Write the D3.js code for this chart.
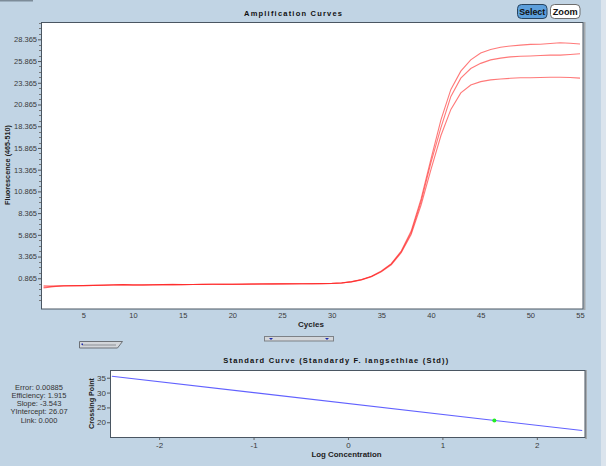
<!DOCTYPE html>
<html><head><meta charset="utf-8">
<script src="https://cdn.jsdelivr.net/npm/d3@7"></script>
<style>
html,body{margin:0;padding:0;background:#c1d4e4;}
svg{display:block;font-family:"Liberation Sans",Arial,sans-serif;}
</style></head>
<body>
<svg id="chart" width="606" height="466"></svg>
<script>
// ---------- DATA ----------
const cycles = d3.range(1, 56);
const curveA = [-0.25,-0.1,0.0,0.0,0.02,0.05,0.07,0.12,0.15,0.1,0.1,0.12,0.14,0.16,0.14,0.15,0.16,0.17,0.16,0.17,
  0.18,0.2,0.22,0.21,0.22,0.23,0.24,0.24,0.25,0.27,0.33,0.48,0.72,1.1,1.7,2.55,4.0,6.3,10.0,14.6,
  19.1,22.6,24.7,26.0,26.8,27.2,27.45,27.6,27.7,27.78,27.8,27.88,27.98,27.92,27.82];
const curveB = [0.0,-0.02,0.0,0.02,0.03,0.05,0.08,0.1,0.12,0.1,0.11,0.12,0.13,0.14,0.15,0.15,0.16,0.18,0.17,0.18,
  0.19,0.2,0.21,0.22,0.23,0.23,0.24,0.25,0.26,0.28,0.34,0.47,0.7,1.08,1.66,2.5,3.9,6.1,9.7,14.2,
  18.2,21.8,23.9,25.0,25.6,26.0,26.2,26.35,26.42,26.45,26.5,26.55,26.55,26.62,26.7];
const curveC = [-0.15,-0.05,-0.02,0.0,0.02,0.04,0.06,0.1,0.13,0.11,0.1,0.11,0.13,0.15,0.14,0.15,0.15,0.17,0.17,0.16,
  0.18,0.19,0.21,0.22,0.22,0.22,0.23,0.24,0.25,0.26,0.32,0.45,0.68,1.05,1.6,2.42,3.8,5.9,9.3,13.4,
  17.3,20.3,22.2,23.1,23.5,23.7,23.8,23.88,23.95,23.95,23.98,24.0,24.0,23.98,23.9];
const series = [curveA, curveB, curveC];

const yTicksTop = [0.865,3.365,5.865,8.365,10.865,13.365,15.865,18.365,20.865,23.365,25.865,28.365];
const xTicksTop = [5,10,15,20,25,30,35,40,45,50,55];

// standard curve
const stdLineX = [-2.5, 2.48];
const stdLineY = [35.5, 17.2];
const stdPointX = [1.55];
const stdPointY = [20.6];
const xTicksStd = [-2,-1,0,1,2];
const yTicksStd = [20,25,30,35];
const statsLines = ["Error: 0.00885","Efficiency: 1.915","Slope: -3.543","YIntercept: 26.07","Link: 0.000"];

// ---------- DRAW ----------
const svg = d3.select("#chart");
const tickFont = "7.5px";
const tickColor = "#3a3a3a";

// background extras
svg.append("rect").attr("x",0).attr("y",0).attr("width",606).attr("height",466).attr("fill","#c1d4e4");
svg.append("rect").attr("x",601).attr("y",0).attr("width",5).attr("height",466).attr("fill","#dbe4ed");
svg.append("rect").attr("x",0).attr("y",0).attr("width",33).attr("height",1.5).attr("fill","#7d8c99");

// ===== Top chart =====
const xT = d3.scaleLinear().domain([0.74, 55.3]).range([41, 583]);
const yT = d3.scaleLinear().domain([-2.67, 30.36]).range([309, 22]);

svg.append("rect").attr("x",41).attr("y",22).attr("width",542).attr("height",287).attr("fill","#fff");

// curves
const line = d3.line().x((d,i)=>xT(cycles[i])).y(d=>yT(d));
const gC = svg.append("g");
series.forEach(s=>{
  gC.append("path").datum(s).attr("d",line).attr("fill","none")
    .attr("stroke","#ff2020").attr("stroke-width",1.1).attr("stroke-opacity",0.6);
});

// frame
svg.append("line").attr("x1",584.5).attr("x2",584.5).attr("y1",22).attr("y2",310).attr("stroke","#a4a9ad").attr("stroke-width",2);
svg.append("rect").attr("x",41.5).attr("y",22.5).attr("width",541.5).attr("height",286.5)
  .attr("fill","none").attr("stroke","#4a5662").attr("stroke-width",1);

// y axis (left)
const yAx = svg.append("g").attr("transform","translate(41,0)")
  .call(d3.axisLeft(yT).tickValues(yTicksTop).tickFormat(d3.format(".3f")).tickSize(3).tickPadding(1));
yAx.select(".domain").remove();
yAx.selectAll("text").attr("font-size",tickFont).attr("fill",tickColor).attr("font-family","Liberation Sans, Arial");
yAx.selectAll("line").attr("stroke","#555");
// minor ticks
const minorTop = d3.range(yTicksTop[0]-2.5, yT.domain()[1], 0.625).filter(v=>v>yT.domain()[0] && !yTicksTop.some(t=>Math.abs(t-v)<1e-6));
svg.append("g").selectAll("line").data(minorTop).join("line")
  .attr("x1",39).attr("x2",41).attr("y1",d=>Math.round(yT(d))+0.5).attr("y2",d=>Math.round(yT(d))+0.5).attr("stroke","#777");

// x axis
const xAx = svg.append("g").attr("transform","translate(0,309)")
  .call(d3.axisBottom(xT).tickValues(xTicksTop).tickFormat(d3.format("d")).tickSize(0).tickPadding(4));
xAx.select(".domain").remove();
xAx.selectAll("text").attr("font-size",tickFont).attr("fill",tickColor).attr("font-family","Liberation Sans, Arial");

// titles/labels
svg.append("text").attr("x",293).attr("y",16).attr("text-anchor","middle")
  .attr("font-size","7.5px").attr("font-weight","bold").attr("fill","#111")
  .attr("textLength",98).attr("lengthAdjust","spacing").text("Amplification Curves");
svg.append("text").attr("x",311).attr("y",327).attr("text-anchor","middle")
  .attr("font-size","8px").attr("font-weight","bold").attr("fill","#222").text("Cycles");
svg.append("text").attr("transform","translate(10,165) rotate(-90)").attr("text-anchor","middle")
  .attr("font-size","6.5px").attr("font-weight","bold").attr("fill","#222")
  .attr("textLength",80).attr("lengthAdjust","spacingAndGlyphs").text("Fluorescence (465-510)");

// buttons
const btn = svg.append("g");
btn.append("rect").attr("x",517.5).attr("y",4.5).attr("width",29.5).attr("height",14).attr("rx",4)
  .attr("fill","#5c9fdc").attr("stroke","#27435e");
btn.append("text").attr("x",532.2).attr("y",15).attr("text-anchor","middle").attr("font-size","9px")
  .attr("font-weight","bold").attr("fill","#111").attr("textLength",26).attr("lengthAdjust","spacingAndGlyphs").text("Select");
btn.append("rect").attr("x",550.5).attr("y",4.5).attr("width",29.5).attr("height",14).attr("rx",4)
  .attr("fill","#fff").attr("stroke","#6c6c6c");
btn.append("text").attr("x",565.2).attr("y",15).attr("text-anchor","middle").attr("font-size","9px")
  .attr("font-weight","bold").attr("fill","#111").attr("textLength",25).attr("lengthAdjust","spacingAndGlyphs").text("Zoom");

// slider widgets
svg.append("polygon").attr("points","79.5,341.5 122.5,341.5 117.5,348 79.5,348")
  .attr("fill","#d3d6da").attr("stroke","#6d7176");
svg.append("line").attr("x1",82).attr("x2",116).attr("y1",345).attr("y2",345).attr("stroke","#8c9096");
svg.append("rect").attr("x",81.5).attr("y",343.5).attr("width",1.5).attr("height",1.5).attr("fill","#1d2bb0");
svg.append("rect").attr("x",264.5).attr("y",336.5).attr("width",69).attr("height",4.5)
  .attr("fill","#d3d6da").attr("stroke","#7d8186");
svg.append("polygon").attr("points","269,338 273,338 271,340").attr("fill","#1d2bb0");
svg.append("polygon").attr("points","325,338 329,338 327,340").attr("fill","#1d2bb0");

// ===== Bottom chart =====
const xS = d3.scaleLinear().domain([-2.52, 2.51]).range([110, 585]);
const yS = d3.scaleLinear().domain([14.8, 37.6]).range([437.7, 370]);

svg.append("rect").attr("x",110).attr("y",370).attr("width",475).attr("height",67.7).attr("fill","#fff");
svg.append("line").attr("x1",586).attr("x2",586).attr("y1",370).attr("y2",439).attr("stroke","#a4a9ad").attr("stroke-width",2);
svg.append("rect").attr("x",110.5).attr("y",370.5).attr("width",474.5).attr("height",67)
  .attr("fill","none").attr("stroke","#4a5662");

svg.append("path").datum(stdLineX.map((x,i)=>[x,stdLineY[i]]))
  .attr("d",d3.line().x(d=>xS(d[0])).y(d=>yS(d[1])))
  .attr("fill","none").attr("stroke","#3a3aff").attr("stroke-width",1.1).attr("stroke-opacity",0.8);
svg.append("g").selectAll("circle").data(stdPointX).join("circle")
  .attr("cx",d=>xS(d)).attr("cy",(d,i)=>yS(stdPointY[i])).attr("r",2).attr("fill","#22ee22");

const ySAx = svg.append("g").attr("transform","translate(110,0)")
  .call(d3.axisLeft(yS).tickValues(yTicksStd).tickSize(3).tickPadding(1));
ySAx.select(".domain").remove();
ySAx.selectAll("text").attr("font-size","8px").attr("fill",tickColor).attr("font-family","Liberation Sans, Arial");
ySAx.selectAll("line").attr("stroke","#555");

const xSAx = svg.append("g").attr("transform","translate(0,438)")
  .call(d3.axisBottom(xS).tickValues(xTicksStd).tickFormat(d=>d<0?"-"+Math.abs(d):d).tickSize(2).tickPadding(2));
xSAx.select(".domain").remove();
xSAx.selectAll("text").attr("font-size","8px").attr("fill",tickColor).attr("font-family","Liberation Sans, Arial");
xSAx.selectAll("line").attr("stroke","#666");

svg.append("text").attr("x",335.8).attr("y",362.5).attr("text-anchor","middle")
  .attr("font-size","7.5px").attr("font-weight","bold").attr("fill","#111")
  .attr("textLength",225).attr("lengthAdjust","spacing").text("Standard Curve (Standardy F. langsethiae (Std))");
svg.append("text").attr("x",346.5).attr("y",456.5).attr("text-anchor","middle")
  .attr("font-size","8px").attr("font-weight","bold").attr("fill","#222")
  .attr("textLength",70).attr("lengthAdjust","spacingAndGlyphs").text("Log Concentration");
svg.append("text").attr("transform","translate(94,403.5) rotate(-90)").attr("text-anchor","middle")
  .attr("font-size","7.5px").attr("font-weight","bold").attr("fill","#222")
  .attr("textLength",51).attr("lengthAdjust","spacingAndGlyphs").text("Crossing Point");

svg.append("g").selectAll("text").data(statsLines).join("text")
  .attr("x",39).attr("y",(d,i)=>389.5+i*8.3).attr("text-anchor","middle")
  .attr("font-size","7.5px").attr("fill","#333").text(d=>d);
</script>
</body></html>
